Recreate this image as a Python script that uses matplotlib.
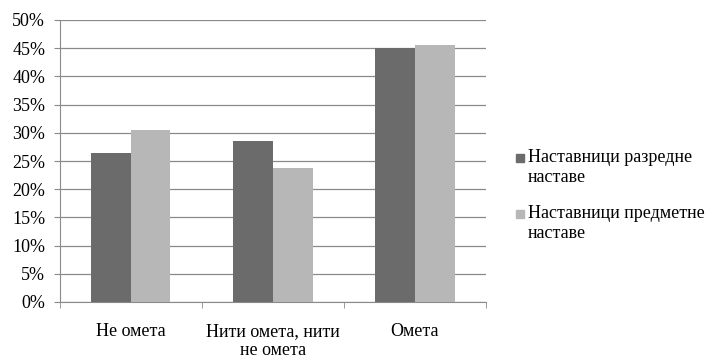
import numpy as np
import matplotlib
matplotlib.use("Agg")
import matplotlib.pyplot as plt
from matplotlib.patches import Rectangle
from matplotlib.ticker import FuncFormatter

plt.rcParams['font.family'] = ['Liberation Serif', 'DejaVu Serif']

# Share of teachers per answer (%)
categories = ["Не омета", "Нити омета, нити\nне омета", "Омета"]
series_names = ["Наставници разредне\nнаставе", "Наставници предметне\nнаставе"]
razredna = [26.4, 28.5, 45.1]
predmetna = [30.5, 23.7, 45.6]
colors = ["#6b6b6b", "#b7b7b7"]

fig = plt.figure(figsize=(7.12, 3.59), dpi=100)
ax = fig.add_axes([59.5 / 712, 1 - 302 / 359, (486 - 59.5) / 712, (302 - 20) / 359])

x = np.arange(len(categories))
w = 0.28
ax.bar(x - w / 2, razredna, width=w, color=colors[0], zorder=3)
ax.bar(x + w / 2, predmetna, width=w, color=colors[1], zorder=3)

ax.set_xlim(-0.5, len(categories) - 0.5)
ax.set_ylim(0, 50)
ax.set_yticks(np.arange(0, 51, 5))
ax.yaxis.set_major_formatter(FuncFormatter(lambda v, p: f"{v:.0f}%"))
ax.grid(axis="y", color="#8a8a8a", linewidth=0.9, zorder=0)

# category labels centred, tick marks on the boundaries
ax.set_xticks(x)
ax.set_xticklabels(categories, fontsize=13, linespacing=1.2)
ax.tick_params(axis="x", length=0, pad=15)
ax.set_xticks(np.arange(-0.5, len(categories)), minor=True)
ax.tick_params(axis="x", which="minor", length=4, color="#8a8a8a")
ax.tick_params(axis="y", length=4.3, color="#8a8a8a", labelsize=13, pad=6)

for s in ["top", "right"]:
    ax.spines[s].set_visible(False)
for s in ["left", "bottom"]:
    ax.spines[s].set_color("#8a8a8a")

# legend on the right: square next to the first line of each label
leg_y = [165, 221]
for col, name, y in zip(colors, series_names, leg_y):
    fig.add_artist(Rectangle((516 / 712, 1 - (y - 3) / 359), 8 / 712, 8 / 359,
                             transform=fig.transFigure, color=col))
    fig.text(528 / 712, 1 - (y - 16) / 359, name, fontsize=13, va="top",
             linespacing=1.2)

fig.savefig("out.png", dpi=100)
